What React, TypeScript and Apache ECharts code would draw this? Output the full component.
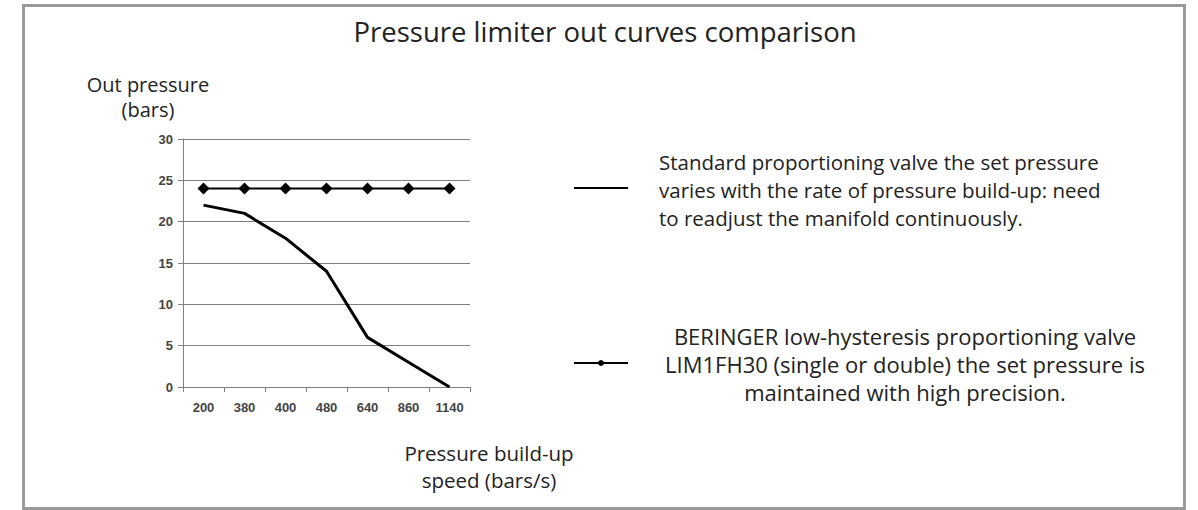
import React, { useEffect, useRef } from "react";
import * as echarts from "echarts";

const categories = ["200", "380", "400", "480", "640", "860", "1140"];
const standardValues = [22, 21, 18, 14, 6, 3, 0];
const beringerValues = [24, 24, 24, 24, 24, 24, 24];
const yTicks = { min: 0, max: 30, interval: 5 };

const titleText = "Pressure limiter out curves comparison";
const yName = ["Out pressure", "(bars)"];
const xName = ["Pressure build-up", "speed (bars/s)"];
const legendStandard = [
  "Standard proportioning valve the set pressure",
  "varies with the rate of pressure build-up: need",
  "to readjust the manifold continuously.",
];
const legendBeringer = [
  "BERINGER low-hysteresis proportioning valve",
  "LIM1FH30 (single or double) the set pressure is",
  "maintained with high precision.",
];

const FONT = "Open Sans";
const TXT = "#222";

export default function App() {
  const ref = useRef<HTMLDivElement>(null);
  useEffect(() => {
    if (!ref.current) return;
    const chart = echarts.init(ref.current, undefined, { renderer: "svg" });
    const textStyle = (s: any) => ({ fill: TXT, fontFamily: FONT, ...s });
    chart.setOption({
      animation: false,
      backgroundColor: "#fff",
      title: {
        text: titleText,
        left: 600,
        textAlign: "center",
        top: 12,
        textStyle: { fontFamily: FONT, fontSize: 27.5, fontWeight: "normal", color: TXT },
      },
      grid: { left: 183, top: 139, width: 287, height: 248, containLabel: false },
      xAxis: {
        type: "category",
        data: categories,
        boundaryGap: true,
        axisLine: { lineStyle: { color: "#808080", width: 1 } },
        axisTick: { show: true, length: 5, lineStyle: { color: "#808080" } },
        axisLabel: { fontFamily: "Liberation Sans", fontSize: 13, fontWeight: "bold", color: "#444", margin: 14 },
        splitLine: { show: false },
      },
      yAxis: {
        type: "value",
        min: yTicks.min,
        max: yTicks.max,
        interval: yTicks.interval,
        axisLine: { show: true, lineStyle: { color: "#808080", width: 1 } },
        axisTick: { show: true, length: 5, lineStyle: { color: "#808080" } },
        axisLabel: { fontFamily: "Liberation Sans", fontSize: 13, fontWeight: "bold", color: "#444", margin: 10 },
        splitLine: { show: true, lineStyle: { color: "#808080", width: 1 } },
      },
      series: [
        {
          name: "Standard",
          type: "line",
          data: standardValues,
          showSymbol: false,
          symbol: "none",
          lineStyle: { color: "#000", width: 3 },
        },
        {
          name: "BERINGER",
          type: "line",
          data: beringerValues,
          symbol: "diamond",
          symbolSize: 12,
          itemStyle: { color: "#000" },
          lineStyle: { color: "#000", width: 2 },
        },
      ],
      graphic: [
        {
          type: "rect",
          shape: { x: 23.5, y: 5.5, width: 1161, height: 503 },
          style: { fill: "none", stroke: "#999", lineWidth: 3 },
          silent: true,
        },
        {
          type: "text",
          x: 148,
          y: 84,
          style: textStyle({ text: yName[0], fontSize: 20, align: "center", verticalAlign: "middle" }),
        },
        {
          type: "text",
          x: 148,
          y: 109,
          style: textStyle({ text: yName[1], fontSize: 20, align: "center", verticalAlign: "middle" }),
        },
        {
          type: "text",
          x: 489,
          y: 453,
          style: textStyle({ text: xName[0], fontSize: 20.5, align: "center", verticalAlign: "middle" }),
        },
        {
          type: "text",
          x: 489,
          y: 480,
          style: textStyle({ text: xName[1], fontSize: 20.5, align: "center", verticalAlign: "middle" }),
        },
        {
          type: "line",
          shape: { x1: 574, y1: 188, x2: 628, y2: 188 },
          style: { stroke: "#000", lineWidth: 2 },
        },
        ...legendStandard.map((t, i) => ({
          type: "text",
          x: 659,
          y: 162 + i * 28,
          style: textStyle({ text: t, fontSize: 20.5, align: "left", verticalAlign: "middle" }),
        })),
        {
          type: "line",
          shape: { x1: 574, y1: 363, x2: 628, y2: 363 },
          style: { stroke: "#000", lineWidth: 2 },
        },
        {
          type: "circle",
          shape: { cx: 601, cy: 363, r: 3 },
          style: { fill: "#000" },
        },
        ...legendBeringer.map((t, i) => ({
          type: "text",
          x: 905,
          y: 336 + i * 28,
          style: textStyle({ text: t, fontSize: 22, align: "center", verticalAlign: "middle" }),
        })),
      ],
    });
    return () => chart.dispose();
  }, []);
  return (
    <div
      ref={ref}
      style={{ position: "fixed", left: 0, top: 0, width: 1198, height: 510 }}
    />
  );
}
